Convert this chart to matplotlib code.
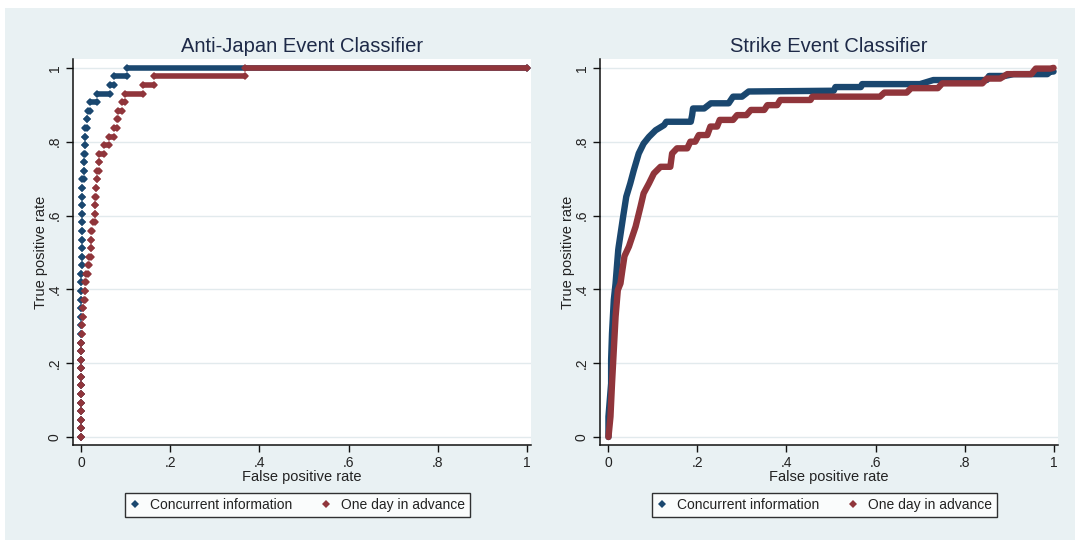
import matplotlib.pyplot as plt
from matplotlib.lines import Line2D
from matplotlib.patches import Rectangle

plt.rcParams['font.family'] = ['Liberation Sans', 'DejaVu Sans']

blue = '#1a476f'
red = '#90353b'
bg = '#e9f1f3'

# Anti-Japan classifier: 43 positive events, one row of points per true-positive count
aj_npos = 43
aj_tp = list(range(44))
aj_conc_lo = [0, 0, 0, 0, 0, 0, 0, 0, 0, 0, 0, 0, 0, 0, 0, 0, 0, 0, 0, 0,
              0.001, 0.001, 0.001, 0.001, 0.001, 0.001, 0.001, 0.001, 0.002, 0.002,
              0.002, 0.005, 0.005, 0.005, 0.008, 0.008, 0.009, 0.013, 0.014, 0.020,
              0.034, 0.065, 0.074, 0.103]
aj_conc_hi = [0, 0, 0, 0, 0, 0, 0, 0, 0, 0, 0, 0, 0, 0, 0, 0, 0, 0, 0, 0,
              0.001, 0.001, 0.001, 0.001, 0.001, 0.001, 0.001, 0.001, 0.002, 0.002,
              0.005, 0.005, 0.005, 0.007, 0.008, 0.009, 0.013, 0.013, 0.020, 0.034,
              0.065, 0.074, 0.103, 1.0]
aj_adv_lo = [0, 0, 0, 0, 0, 0, 0, 0, 0, 0, 0, 0, 0.001, 0.0015, 0.003, 0.0045,
             0.006, 0.008, 0.008, 0.010, 0.014, 0.016, 0.021, 0.021, 0.021, 0.026,
             0.030, 0.031, 0.031, 0.033, 0.034, 0.035, 0.040, 0.040, 0.051, 0.062,
             0.073, 0.079, 0.082, 0.092, 0.097, 0.139, 0.164, 0.368]
aj_adv_hi = [0, 0, 0, 0, 0, 0, 0, 0, 0, 0, 0, 0, 0.001, 0.0015, 0.003, 0.0045,
             0.008, 0.008, 0.010, 0.014, 0.016, 0.021, 0.021, 0.021, 0.024, 0.030,
             0.031, 0.031, 0.033, 0.033, 0.035, 0.040, 0.040, 0.051, 0.062, 0.073,
             0.079, 0.082, 0.092, 0.097, 0.139, 0.164, 0.368, 1.0]

# Strike classifier ROC vertices
st_conc_fpr = [0, 0, 0.003, 0.006, 0.006, 0.008, 0.012, 0.016, 0.019, 0.022, 0.023,
               0.033, 0.040, 0.049, 0.057, 0.068, 0.079, 0.091, 0.106, 0.125, 0.130,
               0.185, 0.188, 0.190, 0.215, 0.230, 0.270, 0.280, 0.300, 0.315, 0.506,
               0.510, 0.567, 0.570, 0.700, 0.730, 0.850, 0.855, 0.890, 0.910, 0.986,
               0.993, 1.0]
st_conc_tpr = [0, 0.055, 0.100, 0.145, 0.209, 0.281, 0.371, 0.416, 0.462, 0.507, 0.516,
               0.597, 0.651, 0.687, 0.723, 0.768, 0.795, 0.813, 0.831, 0.845, 0.854,
               0.854, 0.872, 0.890, 0.890, 0.904, 0.904, 0.922, 0.922, 0.936, 0.938,
               0.948, 0.948, 0.956, 0.956, 0.967, 0.967, 0.978, 0.978, 0.983, 0.983,
               0.990, 0.990]
st_adv_fpr = [0, 0.0045, 0.008, 0.012, 0.016, 0.021, 0.027, 0.031, 0.036, 0.046, 0.061,
              0.072, 0.079, 0.091, 0.102, 0.117, 0.139, 0.143, 0.154, 0.177, 0.184,
              0.195, 0.203, 0.222, 0.229, 0.244, 0.250, 0.280, 0.289, 0.310, 0.320,
              0.350, 0.357, 0.379, 0.386, 0.454, 0.458, 0.610, 0.620, 0.670, 0.680,
              0.740, 0.750, 0.840, 0.850, 0.880, 0.896, 0.950, 0.960, 0.993, 1.0]
st_adv_tpr = [0, 0.055, 0.145, 0.236, 0.326, 0.398, 0.416, 0.450, 0.490, 0.516, 0.570,
              0.624, 0.660, 0.687, 0.714, 0.732, 0.732, 0.768, 0.782, 0.782, 0.800,
              0.800, 0.818, 0.818, 0.841, 0.841, 0.859, 0.859, 0.872, 0.872, 0.886,
              0.886, 0.899, 0.899, 0.913, 0.913, 0.922, 0.922, 0.933, 0.933, 0.945,
              0.945, 0.958, 0.958, 0.971, 0.971, 0.983, 0.983, 0.998, 0.998, 1.0]

titles = ['Anti-Japan Event Classifier', 'Strike Event Classifier']
series_names = ['Concurrent information', 'One day in advance']
ticks = [0, 0.2, 0.4, 0.6, 0.8, 1.0]
tick_labels = ['0', '.2', '.4', '.6', '.8', '1']

fig = plt.figure(figsize=(10.75, 5.4), dpi=100, facecolor='white')
fig.add_artist(Rectangle((5 / 1075, 0), 1, 532 / 540, transform=fig.transFigure,
                         facecolor=bg, edgecolor='none', zorder=-10))

ax1 = fig.add_axes([73 / 1075, 95 / 540, 458 / 1075, 386 / 540])
ax2 = fig.add_axes([600 / 1075, 95 / 540, 458 / 1075, 386 / 540])

# left: rows of diamonds, long runs drawn as thick bars
aj_tpr = [k / aj_npos for k in aj_tp]
for lo, hi, c in [(aj_conc_lo, aj_conc_hi, blue), (aj_adv_lo, aj_adv_hi, red)]:
    lc = ax1.hlines(aj_tpr, lo, hi, colors=c, lw=4.0)
    lc.set_capstyle('round')
    ax1.plot(lo + hi, aj_tpr + aj_tpr, 'D', color=c, ms=4.2, mew=0, ls='none')

# right: dense curves
ax2.plot(st_conc_fpr, st_conc_tpr, color=blue, lw=4.6, solid_joinstyle='round',
         solid_capstyle='round')
ax2.plot(st_adv_fpr, st_adv_tpr, color=red, lw=4.6, solid_joinstyle='round',
         solid_capstyle='round')

handles = [Line2D([], [], marker='D', color=blue, ms=3.6, mew=0, ls='none'),
           Line2D([], [], marker='D', color=red, ms=3.6, mew=0, ls='none')]

for ax, title in zip([ax1, ax2], titles):
    ax.set_facecolor('white')
    ax.set_xlim(-0.019, 1.01)
    ax.set_ylim(-0.0217, 1.024)
    ax.set_xticks(ticks)
    ax.set_xticklabels(tick_labels)
    ax.set_yticks(ticks)
    ax.set_yticklabels(tick_labels, rotation=90, va='center')
    ax.grid(axis='y', color='#e2eaed', lw=1)
    ax.set_axisbelow(True)
    for s in ['top', 'right']:
        ax.spines[s].set_visible(False)
    for s in ['left', 'bottom']:
        ax.spines[s].set_color('#111111')
        ax.spines[s].set_linewidth(1.1)
    ax.tick_params(length=5, width=1, color='#111111', labelsize=10,
                   labelcolor='#222222', pad=3)
    ax.set_title(title, fontsize=14.5, color='#1e2a48', pad=5)
    ax.set_xlabel('False positive rate', fontsize=10.5, color='#222222')
    ax.xaxis.set_label_coords(0.5, -0.064)
    ax.set_ylabel('True positive rate', fontsize=10.5, color='#222222')
    ax.yaxis.set_label_coords(-0.055, 0.5)
    leg = ax.legend(handles, series_names, ncol=2, loc='center',
                    bbox_to_anchor=(0.49, -0.155), frameon=True, fancybox=False,
                    fontsize=10, handlelength=0.8, handletextpad=0.7,
                    columnspacing=2.0, borderpad=0.35, labelcolor='#222222')
    leg.get_frame().set_edgecolor('black')
    leg.get_frame().set_linewidth(1)

fig.savefig('out.png', dpi=100, facecolor=fig.get_facecolor())
